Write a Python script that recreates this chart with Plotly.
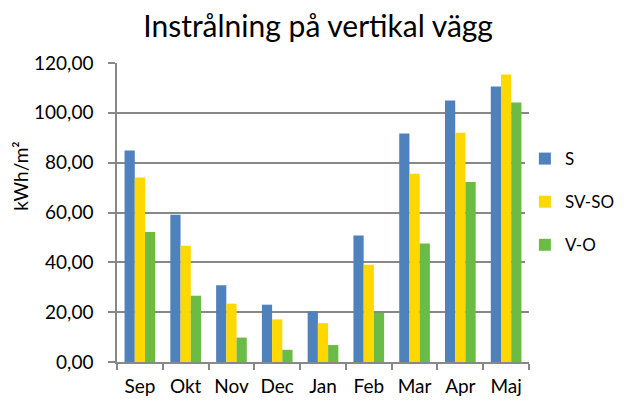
import plotly.graph_objects as go

months = ["Sep", "Okt", "Nov", "Dec", "Jan", "Feb", "Mar", "Apr", "Maj"]
s_vals = [84.9, 59.1, 30.8, 23.0, 20.3, 50.8, 91.7, 105.0, 110.6]
svso_vals = [74.0, 46.7, 23.4, 17.1, 15.6, 39.0, 75.6, 92.0, 115.4]
vo_vals = [52.2, 26.6, 9.8, 4.9, 6.8, 19.7, 47.6, 72.2, 104.1]
y_ticks = [0, 20, 40, 60, 80, 100, 120]

font_family = "Lato, Open Sans, sans-serif"

fig = go.Figure()
for name, vals, color in [("S", s_vals, "#4f81bd"),
                          ("SV-SO", svso_vals, "#ffd800"),
                          ("V-O", vo_vals, "#6abc46")]:
    fig.add_trace(go.Bar(x=months, y=vals, name=name, legendgroup=name,
                         marker=dict(color=color, line=dict(width=0))))

fig.add_annotation(text="kWh/m²", textangle=-90, xref="paper", yref="paper",
                   x=-0.235, y=0.62, xanchor="center", yanchor="middle",
                   showarrow=False, font=dict(size=19, family=font_family, color="black"))

fig.update_layout(
    width=624, height=401,
    paper_bgcolor="white", plot_bgcolor="white",
    margin=dict(l=109, r=103, t=55, b=47, autoexpand=False),
    barmode="group", bargap=0.33, bargroupgap=0,
    separators=",.",
    font=dict(family=font_family, size=19, color="black"),
    title=dict(text="Instrålning på vertikal vägg", x=0.497, xref="container", xanchor="center",
               y=0.955, yref="container", yanchor="middle", font=dict(size=30, family=font_family)),
    legend=dict(x=0.99, xanchor="left", y=0.535, yanchor="middle",
                traceorder="grouped", tracegroupgap=18,
                font=dict(size=17), itemwidth=30),
    xaxis=dict(showline=True, linecolor="#888888", linewidth=1.5,
               ticks="outside", tickson="boundaries", ticklen=6, tickcolor="#888888",
               tickwidth=1.5, showgrid=False, tickfont=dict(size=19),
               ticklabelstandoff=6),
    yaxis=dict(range=[0, 120], tickvals=y_ticks, tickformat=".2f",
               showline=True, linecolor="#888888", linewidth=1.5,
               ticks="outside", ticklen=7, tickcolor="#888888", tickwidth=1.5,
               showgrid=True, gridcolor="#888888", gridwidth=1.5,
               zeroline=False, ticklabelstandoff=11,
               tickfont=dict(size=19)),
)

fig.write_html("out.html")
